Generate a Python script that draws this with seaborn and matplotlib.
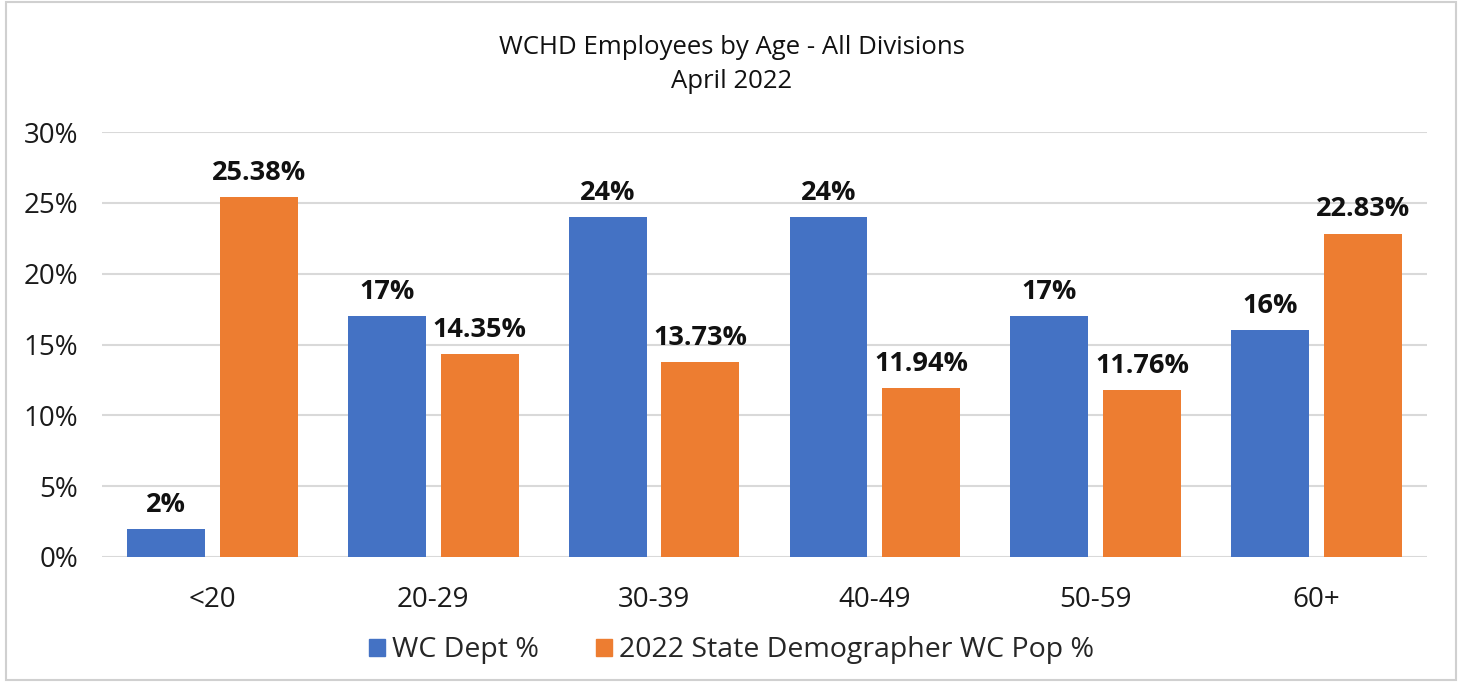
import matplotlib
matplotlib.use("Agg")
import matplotlib.pyplot as plt
import matplotlib.patches as mpatches
from matplotlib.ticker import FuncFormatter, MultipleLocator
import seaborn as sns
import pandas as pd

age_groups = ["<20", "20-29", "30-39", "40-49", "50-59", "60+"]
wc_dept = [2, 17, 24, 24, 17, 16]
state_pop = [25.38, 14.35, 13.73, 11.94, 11.76, 22.83]
series_names = ["WC Dept %", "2022 State Demographer WC Pop %"]
colors = ["#4472C4", "#ED7D31"]

df = pd.DataFrame({
    "Age": age_groups * 2,
    "Value": wc_dept + state_pop,
    "Series": [series_names[0]] * len(age_groups) + [series_names[1]] * len(age_groups),
})

sns.set_theme(style="white")
plt.rcParams["font.family"] = ["Open Sans", "DejaVu Sans"]

fig = plt.figure(figsize=(14.63, 6.83), dpi=100)
ax = fig.add_axes([0.0697, 0.1845, 0.9057, 0.6222])

sns.barplot(data=df, x="Age", y="Value", hue="Series", order=age_groups,
            hue_order=series_names, palette=colors, width=0.84, gap=0.16,
            saturation=1, linewidth=0, ax=ax, legend=False)

ax.set_ylim(0, 30)
ax.yaxis.set_major_locator(MultipleLocator(5))
ax.yaxis.set_major_formatter(FuncFormatter(lambda v, p: f"{v:.0f}%"))
ax.set_xlim(-0.5, len(age_groups) - 0.5)
ax.grid(axis="y", color="#d9d9d9", linewidth=1.5)
ax.set_axisbelow(True)
for s in ax.spines.values():
    s.set_visible(False)
ax.set_xlabel("")
ax.set_ylabel("")
ax.tick_params(axis="both", length=0, labelsize=20, colors="#1a1a1a")
ax.tick_params(axis="x", pad=21)
ax.tick_params(axis="y", pad=17)

fmts = ["{:.0f}%", "{:.2f}%"]
for cont, fmt in zip(ax.containers, fmts):
    ax.bar_label(cont, labels=[fmt.format(b.get_height()) for b in cont],
                 padding=8, fontsize=19.5, fontweight="bold", color="#111111")

fig.text(0.5, 0.930, "WCHD Employees by Age - All Divisions", ha="center",
         va="center", fontsize=18.5, color="#111111")
fig.text(0.5, 0.880, "April 2022", ha="center", va="center", fontsize=18.5,
         color="#111111")

handles = [mpatches.Patch(color=c, label=n) for c, n in zip(colors, series_names)]
fig.legend(handles=handles, loc="center", bbox_to_anchor=(0.5, 0.048), ncol=2,
           frameon=False, fontsize=20.5, handlelength=0.55, handleheight=0.55,
           handletextpad=0.25, columnspacing=2.0)

border = mpatches.Rectangle((0.004, 0.004), 0.991, 0.993, transform=fig.transFigure,
                            fill=False, edgecolor="#d0d0d0", linewidth=1.5)
fig.patches.append(border)

fig.savefig("out.png", dpi=100, facecolor="white")
